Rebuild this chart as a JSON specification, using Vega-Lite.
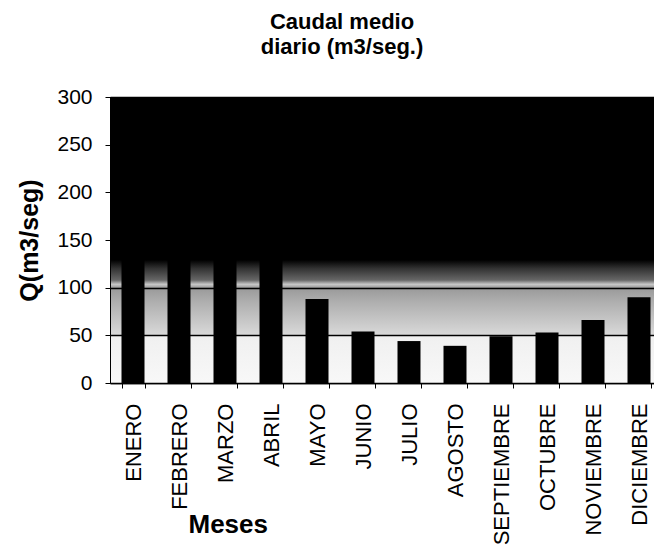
{
  "$schema": "https://vega.github.io/schema/vega-lite/v6.json",
  "width": 544,
  "height": 286,
  "autosize": "none",
  "padding": {"left": 110, "top": 97, "right": 0, "bottom": 169},
  "background": "white",
  "config": {
    "view": {"stroke": null},
    "font": "Liberation Sans"
  },
  "title": {
    "text": ["Caudal medio", "diario (m3/seg.)"],
    "font": "Liberation Sans",
    "fontSize": 22,
    "fontWeight": "bold",
    "color": "black",
    "lineHeight": 25,
    "offset": 27,
    "dx": -40
  },
  "data": {
    "values": [
      {"mes": "ENERO", "q": 140},
      {"mes": "FEBRERO", "q": 155},
      {"mes": "MARZO", "q": 150},
      {"mes": "ABRIL", "q": 132},
      {"mes": "MAYO", "q": 88},
      {"mes": "JUNIO", "q": 54},
      {"mes": "JULIO", "q": 44},
      {"mes": "AGOSTO", "q": 39},
      {"mes": "SEPTIEMBRE", "q": 49},
      {"mes": "OCTUBRE", "q": 53},
      {"mes": "NOVIEMBRE", "q": 66},
      {"mes": "DICIEMBRE", "q": 90}
    ]
  },
  "layer": [
    {
      "data": {"values": [{"a": 1}]},
      "mark": {
        "type": "rect",
        "color": {
          "gradient": "linear",
          "x1": 0, "y1": 0, "x2": 0, "y2": 1,
          "stops": [
            {"offset": 0, "color": "#000000"},
            {"offset": 0.57, "color": "#000000"},
            {"offset": 0.6, "color": "#333333"},
            {"offset": 0.64, "color": "#666666"},
            {"offset": 0.655, "color": "#c8c8c8"},
            {"offset": 0.667, "color": "#999999"},
            {"offset": 0.72, "color": "#b0b0b0"},
            {"offset": 0.83, "color": "#d8d8d8"},
            {"offset": 0.835, "color": "#f0f0f0"},
            {"offset": 1, "color": "#f8f8f8"}
          ]
        }
      },
      "encoding": {
        "y": {"datum": 0, "type": "quantitative"},
        "y2": {"datum": 300}
      }
    },
    {
      "mark": {"type": "bar", "color": "black"},
      "encoding": {
        "x": {
          "field": "mes",
          "type": "nominal",
          "sort": null,
          "scale": {"paddingInner": 0.5, "paddingOuter": 0.25, "range": [0, 552]},
          "axis": {
            "title": "Meses",
            "titleFont": "Liberation Sans",
            "titleFontSize": 26,
            "titleFontWeight": "bold",
            "titleColor": "black",
            "titleAnchor": "start",
            "titleAlign": "left",
            "titleX": 78,
            "titleY": 149,
            "titleBaseline": "alphabetic",
            "labelAngle": -90,
            "labelFont": "Liberation Sans",
            "labelFontSize": 22,
            "labelColor": "black",
            "labelPadding": 15,
            "tickBand": "extent",
            "ticks": true,
            "tickSize": 5,
            "tickColor": "black",
            "domainColor": "black",
            "domainWidth": 1.5
          }
        },
        "y": {
          "field": "q",
          "type": "quantitative",
          "scale": {"domain": [0, 300]},
          "axis": {
            "title": "Q(m3/seg)",
            "titleFont": "Liberation Sans",
            "titleFontSize": 25,
            "titleFontWeight": "bold",
            "titleColor": "black",
            "titlePadding": 14,
            "values": [0, 50, 100, 150, 200, 250, 300],
            "labelFont": "Liberation Sans",
            "labelFontSize": 21,
            "labelColor": "black",
            "labelPadding": 13,
            "tickSize": 5,
            "tickColor": "black",
            "domainColor": "black",
            "grid": true,
            "gridColor": "black",
            "gridWidth": 1.5,
            "gridOpacity": 1,
            "zindex": 1
          }
        }
      }
    }
  ]
}
